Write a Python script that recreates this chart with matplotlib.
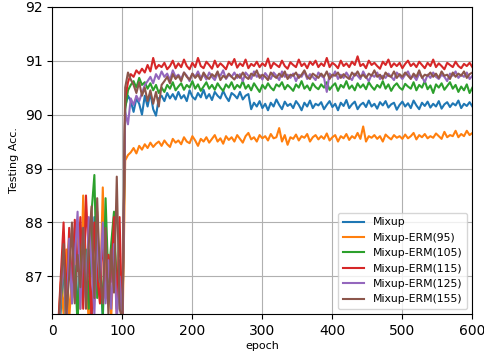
import numpy as np
import matplotlib
matplotlib.use("Agg")
import matplotlib.pyplot as plt

epochs = np.arange(0, 601, 4)

mixup = [
    83.5, 84.9, 85.7, 86.4, 87.2, 86.1, 87.6, 86.5, 87.9, 86.2,
    87.4, 88.0, 86.6, 87.5, 86.0, 88.1, 86.9, 87.3, 86.2, 87.8,
    86.7, 87.1, 88.0, 86.4, 87.3, 86.0,
    90.15, 90.35, 90.25, 90.05, 90.30, 90.20, 90.00, 90.35, 90.15, 90.40,
    90.10, 89.98, 90.30, 90.35, 90.25, 90.40, 90.30, 90.38, 90.28, 90.42,
    90.30, 90.36, 90.25, 90.45, 90.33, 90.28, 90.40, 90.32, 90.46, 90.30,
    90.38, 90.27, 90.42, 90.35, 90.30, 90.44, 90.33, 90.25, 90.40, 90.36,
    90.30, 90.42, 90.28, 90.35, 90.38, 90.10, 90.22, 90.15, 90.25, 90.12,
    90.20, 90.08, 90.22, 90.15, 90.28, 90.18, 90.10, 90.24, 90.16, 90.20,
    90.12, 90.25, 90.18, 90.08, 90.22, 90.15, 90.26, 90.12, 90.20, 90.17,
    90.23, 90.10, 90.18, 90.25, 90.14, 90.20, 90.08, 90.22, 90.16, 90.27,
    90.12, 90.19, 90.24, 90.10, 90.18, 90.22, 90.14, 90.26, 90.15, 90.20,
    90.11, 90.23, 90.17, 90.25, 90.13, 90.19, 90.22, 90.09, 90.18, 90.24,
    90.15, 90.21, 90.12, 90.26, 90.17, 90.10, 90.22, 90.16, 90.24, 90.13,
    90.20, 90.15, 90.25, 90.11, 90.19, 90.23, 90.14, 90.21, 90.17, 90.26,
    90.12, 90.20, 90.16, 90.23, 90.15,
]

erm95 = [
    83.0, 84.6, 85.9, 86.9, 86.3, 87.5, 86.2, 87.0, 86.6, 88.0,
    86.4, 88.5, 87.2, 86.1, 87.8, 86.8, 88.2, 86.5, 88.65, 86.9,
    87.4, 86.2, 87.6, 86.8, 87.0, 85.8,
    89.15, 89.25, 89.30, 89.38, 89.28, 89.42, 89.35, 89.45, 89.38, 89.48,
    89.40, 89.46, 89.50, 89.42, 89.52, 89.45, 89.40, 89.55, 89.48, 89.52,
    89.45, 89.58, 89.50, 89.47, 89.60, 89.52, 89.42, 89.55, 89.50, 89.58,
    89.48, 89.55, 89.62, 89.50, 89.56, 89.46, 89.60, 89.53, 89.58, 89.50,
    89.62, 89.55, 89.48, 89.60, 89.66, 89.54, 89.58, 89.50, 89.62, 89.56,
    89.60, 89.52, 89.64, 89.56, 89.58, 89.75, 89.50, 89.62, 89.44, 89.58,
    89.55, 89.63, 89.52, 89.60, 89.57, 89.64, 89.50, 89.58, 89.62, 89.54,
    89.60, 89.55, 89.65, 89.52, 89.58, 89.62, 89.50, 89.60, 89.56, 89.64,
    89.53, 89.60, 89.56, 89.66, 89.55, 89.78, 89.50, 89.60, 89.57, 89.62,
    89.55, 89.60, 89.50, 89.63, 89.58, 89.54, 89.62, 89.57, 89.60, 89.55,
    89.63, 89.56, 89.60, 89.66, 89.54, 89.62, 89.58, 89.64, 89.56, 89.60,
    89.57, 89.65, 89.60, 89.55, 89.68, 89.58, 89.62, 89.60, 89.70, 89.58,
    89.64, 89.60, 89.70, 89.62, 89.66,
]

erm105 = [
    82.5, 84.0, 85.5, 86.5, 87.3, 86.0, 87.8, 86.7, 87.2, 86.1,
    87.9, 86.8, 87.5, 86.4, 88.2, 88.88, 86.6, 87.3, 86.3, 88.45,
    86.9, 87.6, 88.2, 86.7, 87.0, 86.0,
    90.10, 90.45, 90.55, 90.62, 90.50, 90.68, 90.55, 90.60, 90.48, 90.58,
    90.45, 90.55, 90.40, 90.50, 90.42, 90.55, 90.48, 90.60, 90.45, 90.52,
    90.58, 90.46, 90.55, 90.50, 90.62, 90.48, 90.56, 90.44, 90.52, 90.60,
    90.48, 90.55, 90.46, 90.58, 90.50, 90.44, 90.56, 90.50, 90.60, 90.47,
    90.55, 90.50, 90.62, 90.48, 90.55, 90.45, 90.58, 90.50, 90.42, 90.55,
    90.48, 90.58, 90.50, 90.45, 90.56, 90.52, 90.60, 90.47, 90.55, 90.50,
    90.44, 90.56, 90.50, 90.62, 90.48, 90.54, 90.45, 90.58, 90.51, 90.47,
    90.56, 90.50, 90.60, 90.46, 90.53, 90.58, 90.44, 90.55, 90.50, 90.62,
    90.48, 90.54, 90.45, 90.58, 90.50, 90.56, 90.47, 90.60, 90.52, 90.46,
    90.55, 90.50, 90.62, 90.48, 90.56, 90.44, 90.53, 90.58, 90.50, 90.46,
    90.57, 90.52, 90.48, 90.60, 90.45, 90.55, 90.50, 90.62, 90.47, 90.54,
    90.40, 90.56, 90.50, 90.58, 90.46, 90.53, 90.60, 90.48, 90.55, 90.42,
    90.52, 90.45, 90.56, 90.40, 90.50,
]

erm115 = [
    83.8, 85.2, 86.0, 87.0, 88.0, 86.5, 87.9, 86.8, 88.05, 87.1,
    88.1, 86.4, 88.5, 87.3, 86.2, 88.0, 87.0, 86.5, 87.8, 86.6,
    87.4, 86.9, 88.1, 86.3, 88.1, 86.0,
    90.30, 90.60, 90.75, 90.70, 90.82, 90.76, 90.85, 90.78, 90.92, 90.80,
    91.05, 90.85, 90.92, 90.88, 90.96, 90.84, 90.90, 91.00, 90.86, 90.95,
    90.88, 91.02, 90.90, 90.84, 90.96, 90.88, 91.05, 90.90, 90.86, 90.98,
    90.92, 90.85, 91.00, 90.88, 90.95, 90.90, 90.84, 90.98, 90.92, 91.03,
    90.87, 90.95, 90.90, 91.02, 90.86, 90.94, 90.90, 90.98, 90.88, 90.95,
    90.90, 91.04, 90.86, 90.96, 90.92, 90.88, 91.00, 90.90, 90.85, 90.97,
    90.92, 90.88, 91.02, 90.90, 90.95, 90.86, 90.98, 90.92, 91.00, 90.88,
    90.95, 90.90, 91.05, 90.88, 90.96, 90.92, 90.86, 91.00, 90.90, 90.95,
    90.88, 90.98, 90.92, 91.08, 90.90, 90.94, 90.86, 91.00, 90.92, 90.96,
    90.90, 90.85, 90.98, 90.92, 91.02, 90.88, 90.95, 90.90, 90.96, 90.86,
    90.94, 91.00, 90.90, 90.95, 90.88, 90.98, 90.92, 90.86, 90.96, 90.90,
    91.02, 90.88, 90.95, 90.90, 90.84, 90.96, 90.92, 90.88, 90.98, 90.90,
    90.86, 90.94, 90.90, 90.96, 90.88,
]

erm125 = [
    82.8, 84.3, 85.6, 86.6, 87.4, 86.0, 87.7, 86.5, 87.3, 88.2,
    86.4, 87.9, 86.6, 88.1, 87.2, 86.3, 87.8, 86.9, 88.0, 86.5,
    87.3, 86.4, 87.6, 86.2, 87.0, 86.1,
    90.05, 89.82, 90.30, 90.18, 90.35, 90.25, 90.40, 90.55, 90.62, 90.70,
    90.58, 90.75, 90.66, 90.80, 90.70, 90.76, 90.64, 90.82, 90.70, 90.74,
    90.66, 90.78, 90.72, 90.62, 90.76, 90.70, 90.80, 90.68, 90.74, 90.65,
    90.78, 90.70, 90.64, 90.76, 90.72, 90.82, 90.66, 90.74, 90.70, 90.78,
    90.68, 90.75, 90.62, 90.78, 90.72, 90.66, 90.80, 90.70, 90.74, 90.65,
    90.77, 90.70, 90.66, 90.78, 90.72, 90.64, 90.80, 90.70, 90.74, 90.68,
    90.76, 90.62, 90.74, 90.70, 90.80, 90.66, 90.75, 90.70, 90.64, 90.78,
    90.72, 90.68, 90.42, 90.76, 90.70, 90.80, 90.66, 90.74, 90.68, 90.78,
    90.70, 90.64, 90.76, 90.72, 90.66, 90.80, 90.70, 90.62, 90.74, 90.70,
    90.78, 90.66, 90.72, 90.68, 90.76, 90.70, 90.64, 90.78, 90.72, 90.66,
    90.74, 90.80, 90.68, 90.72, 90.64, 90.76, 90.70, 90.60, 90.74, 90.68,
    90.78, 90.70, 90.66, 90.74, 90.70, 90.62, 90.76, 90.72, 90.80, 90.68,
    90.74, 90.70, 90.78, 90.66, 90.72,
]

erm155 = [
    83.2, 84.8, 85.9, 86.8, 87.6, 86.3, 87.0, 88.0, 86.5, 87.4,
    86.8, 87.9, 86.4, 87.6, 88.3, 86.6, 88.45, 87.0, 86.5, 87.9,
    86.3, 87.5, 86.7, 88.85, 86.4, 86.2,
    90.50, 90.78, 90.65, 90.55, 90.40, 90.60, 90.35, 90.50, 90.25, 90.45,
    90.20, 90.42, 90.15, 90.55, 90.62, 90.70, 90.58, 90.75, 90.66, 90.72,
    90.62, 90.78, 90.70, 90.65, 90.76, 90.68, 90.74, 90.64, 90.78, 90.70,
    90.66, 90.75, 90.70, 90.80, 90.64, 90.72, 90.68, 90.76, 90.70, 90.65,
    90.74, 90.68, 90.78, 90.70, 90.66, 90.76, 90.72, 90.82, 90.68, 90.74,
    90.70, 90.64, 90.78, 90.72, 90.68, 90.76, 90.70, 90.80, 90.66, 90.74,
    90.72, 90.78, 90.68, 90.74, 90.82, 90.70, 90.66, 90.76, 90.72, 90.68,
    90.76, 90.70, 90.80, 90.66, 90.74, 90.72, 90.78, 90.68, 90.75, 90.70,
    90.66, 90.78, 90.72, 90.80, 90.70, 90.74, 90.68, 90.76, 90.72, 90.82,
    90.70, 90.74, 90.66, 90.78, 90.72, 90.70, 90.80, 90.68, 90.75, 90.70,
    90.78, 90.72, 90.66, 90.76, 90.70, 90.82, 90.68, 90.74, 90.72, 90.78,
    90.70, 90.76, 90.68, 90.80, 90.72, 90.74, 90.66, 90.78, 90.70, 90.76,
    90.72, 90.80, 90.68, 90.75, 90.78,
]

series = [mixup, erm95, erm105, erm115, erm125, erm155]
labels = ["Mixup", "Mixup-ERM(95)", "Mixup-ERM(105)", "Mixup-ERM(115)",
          "Mixup-ERM(125)", "Mixup-ERM(155)"]

fig, ax = plt.subplots(figsize=(4.85, 3.53), dpi=100)
fig.subplots_adjust(left=0.108, right=0.974, bottom=0.11, top=0.981)

for ys, lab in zip(series, labels):
    ax.plot(epochs, ys, label=lab, linewidth=1.5)

ax.set_xlim(0, 600)
ax.set_ylim(86.3, 92)
ax.set_xticks([0, 100, 200, 300, 400, 500, 600])
ax.set_yticks([87, 88, 89, 90, 91, 92])
ax.tick_params(labelsize=10)
ax.grid(True, color="#b0b0b0", linewidth=0.8)
ax.set_xlabel("epoch", fontsize=8, labelpad=2)
ax.set_ylabel("Testing Acc.", fontsize=8)
ax.legend(loc="lower right", fontsize=7.8)

fig.savefig("out.png")
